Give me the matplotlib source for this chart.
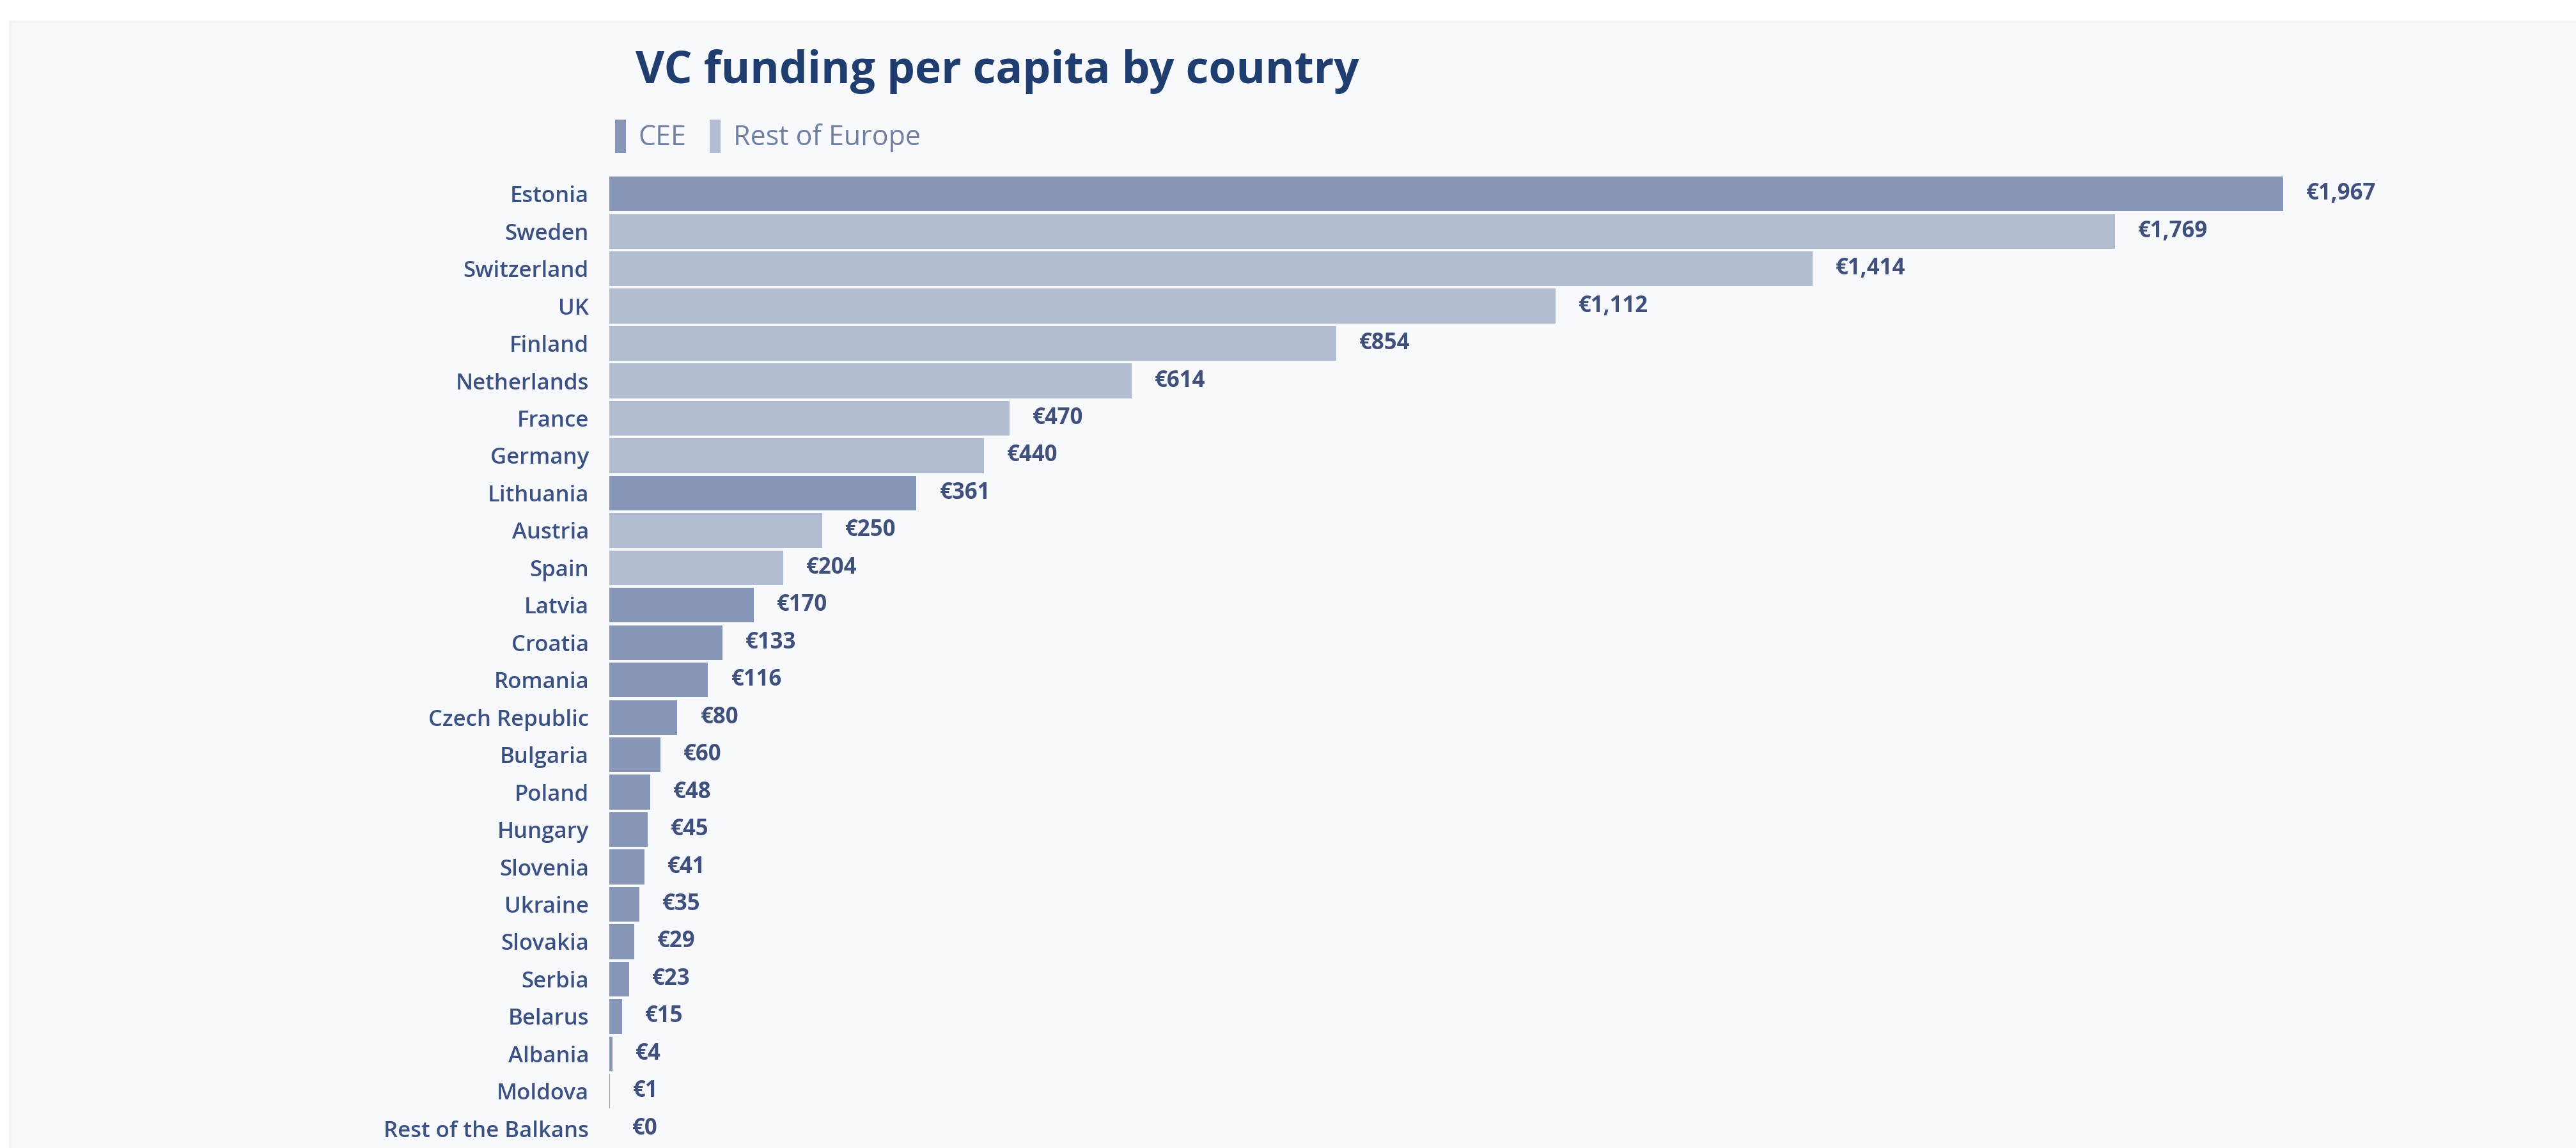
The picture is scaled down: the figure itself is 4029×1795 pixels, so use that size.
import matplotlib
matplotlib.use("Agg")
import matplotlib.pyplot as plt
from matplotlib.patches import Rectangle, Patch

countries = ["Estonia", "Sweden", "Switzerland", "UK", "Finland", "Netherlands",
             "France", "Germany", "Lithuania", "Austria", "Spain", "Latvia",
             "Croatia", "Romania", "Czech Republic", "Bulgaria", "Poland",
             "Hungary", "Slovenia", "Ukraine", "Slovakia", "Serbia", "Belarus",
             "Albania", "Moldova", "Rest of the Balkans"]
values = [1967, 1769, 1414, 1112, 854, 614, 470, 440, 361, 250, 204, 170,
          133, 116, 80, 60, 48, 45, 41, 35, 29, 23, 15, 4, 1, 0]
groups = ["CEE", "Rest of Europe", "Rest of Europe", "Rest of Europe",
          "Rest of Europe", "Rest of Europe", "Rest of Europe", "Rest of Europe",
          "CEE", "Rest of Europe", "Rest of Europe", "CEE", "CEE", "CEE", "CEE",
          "CEE", "CEE", "CEE", "CEE", "CEE", "CEE", "CEE", "CEE", "CEE", "CEE",
          "CEE"]
series_names = ["CEE", "Rest of Europe"]
title = "VC funding per capita by country"

colors = {"CEE": "#8796b6", "Rest of Europe": "#b2bdd3"}
label_color = "#3b5183"
title_color = "#1f3d6e"
value_color = "#3f507c"
legend_text_color = "#7180a0"

W, H = 4029, 1795
DPI = 100
fig = plt.figure(figsize=(W / DPI, H / DPI), dpi=DPI)
fig.patch.set_facecolor("white")

# panel background with a soft edge
fig.patches.append(Rectangle((18 / W, 0), 1 - 18 / W, 1 - 36 / H,
                             transform=fig.transFigure, facecolor="#f8f9fd",
                             edgecolor="none", zorder=-5))
fig.patches.append(Rectangle((14 / W, 0), 1 - 14 / W, 1 - 32 / H,
                             transform=fig.transFigure, facecolor="#f3f4f8",
                             edgecolor="none", zorder=-6))

font = "Open Sans"
x0_px, x1_px = 953, 3900
y_top_px, y_bot_px = 274, 1794
px_per_unit = 1.331
ax = fig.add_axes([x0_px / W, 1 - y_bot_px / H, (x1_px - x0_px) / W,
                   (y_bot_px - y_top_px) / H])
ax.set_zorder(2)
ax.set_facecolor("none")
n = len(countries)
ypos = list(range(n))
bar_colors = [colors[g] for g in groups]
ax.barh(ypos, values, height=0.93, color=bar_colors, edgecolor="none", zorder=2)
ax.set_xlim(0, (x1_px - x0_px) / px_per_unit)
ax.set_ylim(n - 0.5, -0.5)
ax.set_yticks(ypos)
ax.set_yticklabels(countries, fontsize=25, color=label_color,
                   fontfamily=font, fontweight="semibold")
ax.tick_params(axis="y", length=0, pad=23)
ax.set_xticks([])
for s in ax.spines.values():
    s.set_visible(False)

for y, v in zip(ypos, values):
    ax.annotate(f"€{v:,}", xy=(v, y), xytext=(36, 0), textcoords="offset pixels",
                va="center", ha="left", fontsize=25, color=value_color,
                fontfamily=font, fontweight="bold")

fig.text(994 / W, 1 - 112 / H, title, fontsize=50, fontweight="bold",
         color=title_color, fontfamily=font, va="center", ha="left")

handles = [Patch(facecolor=colors[s], edgecolor="none", label=s) for s in series_names]
leg = fig.legend(handles=handles, loc="center left",
                 bbox_to_anchor=(962 / W, 1 - 213 / H), ncol=2, frameon=False,
                 handlelength=0.4, handleheight=1.45, handletextpad=0.45,
                 columnspacing=0.85, borderaxespad=0, borderpad=0,
                 prop={"family": font, "size": 31})
for t in leg.get_texts():
    t.set_color(legend_text_color)

fig.savefig("out.png", dpi=DPI, facecolor=fig.get_facecolor())
